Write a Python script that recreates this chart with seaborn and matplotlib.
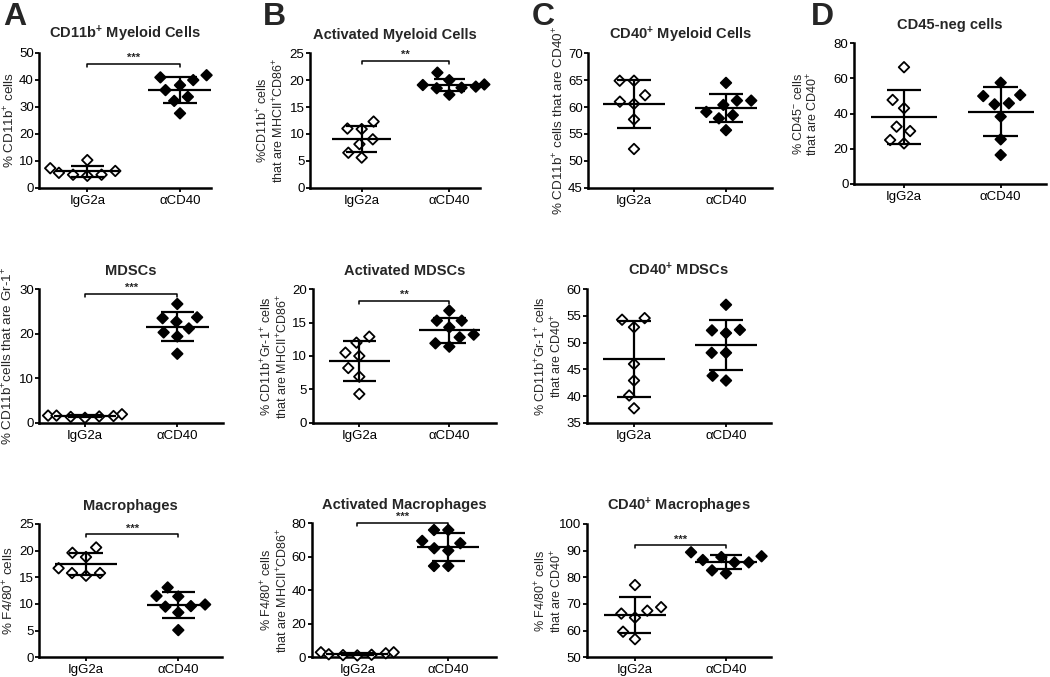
import numpy as np
import pandas as pd
import matplotlib
matplotlib.use("Agg")
import matplotlib.pyplot as plt
from matplotlib.markers import MarkerStyle
from matplotlib.transforms import Affine2D
import seaborn as sns

# ---------------- data ----------------
groups = ["IgG2a", "αCD40"]

# Row 1
myeloid_igg = [6.2, 4.8, 4.4, 4.8, 10.2, 5.5, 7.2]
myeloid_cd40 = [41.6, 40.8, 39.8, 37.9, 36.1, 33.6, 32.1, 27.5]
act_myeloid_igg = [12.3, 10.9, 11.0, 9.0, 8.1, 6.5, 5.6]
act_myeloid_cd40 = [20.0, 19.1, 21.4, 18.5, 17.3, 18.6, 18.8, 19.2]
cd40_myeloid_igg = [64.9, 64.9, 62.2, 60.6, 61.0, 57.7, 52.2]
cd40_myeloid_cd40 = [61.2, 64.5, 59.1, 58.5, 57.9, 60.4, 61.2, 55.7]
cd45neg_igg = [66.4, 47.8, 43.1, 32.6, 30.1, 25.0, 23.1]
cd45neg_cd40 = [50.6, 45.9, 50.0, 57.6, 45.3, 38.3, 25.4, 16.5]
# Row 2
mdsc_igg = [1.9, 1.6, 1.4, 1.1, 1.3, 1.6, 1.5]
mdsc_cd40 = [26.7, 22.7, 23.5, 23.7, 20.3, 19.4, 21.2, 15.5]
act_mdsc_igg = [12.9, 12.0, 10.0, 10.5, 8.2, 6.9, 4.3]
act_mdsc_cd40 = [16.8, 15.3, 15.3, 14.3, 12.8, 13.2, 11.4, 11.9]
cd40_mdsc_igg = [54.3, 54.6, 52.9, 46.0, 42.9, 40.1, 37.7]
cd40_mdsc_cd40 = [57.1, 52.4, 51.8, 52.3, 48.1, 48.1, 43.8, 42.9]
# Row 3
mac_igg = [20.6, 19.6, 18.8, 16.7, 15.8, 15.3, 15.8]
mac_cd40 = [13.1, 11.4, 11.5, 9.9, 9.5, 9.6, 8.4, 5.1]
act_mac_igg = [3.0, 2.4, 1.5, 1.1, 1.3, 1.8, 3.0]
act_mac_cd40 = [76.0, 76.0, 68.1, 69.5, 63.7, 65.1, 54.5, 54.5]
cd40_mac_igg = [77.1, 68.8, 67.5, 66.4, 64.9, 59.6, 56.8]
cd40_mac_cd40 = [86.5, 87.9, 87.6, 89.4, 85.6, 85.6, 81.5, 82.6]

titles = [
    r"CD11b$^{\mathbf{+}}$ Myeloid Cells", "Activated Myeloid Cells",
    r"CD40$^{\mathbf{+}}$ Myeloid Cells", "CD45-neg cells",
    "MDSCs", "Activated MDSCs", r"CD40$^{\mathbf{+}}$ MDSCs",
    "Macrophages", "Activated Macrophages", r"CD40$^{\mathbf{+}}$ Macrophages",
]
ylabels = [
    r"% CD11b$^{+}$ cells",
    "%CD11b$^{+}$ cells\nthat are MHCII$^{+}$CD86$^{+}$",
    r"% CD11b$^{+}$ cells that are CD40$^{+}$",
    "% CD45$^{-}$ cells\nthat are CD40$^{+}$",
    r"% CD11b$^{+}$cells that are Gr-1$^{+}$",
    "% CD11b$^{+}$Gr-1$^{+}$ cells\nthat are MHCII$^{+}$CD86$^{+}$",
    "% CD11b$^{+}$Gr-1$^{+}$ cells\nthat are CD40$^{+}$",
    r"% F4/80$^{+}$ cells",
    "% F4/80$^{+}$ cells\nthat are MHCII$^{+}$CD86$^{+}$",
    "% F4/80$^{+}$ cells\nthat are CD40$^{+}$",
]
yticks = [
    [0, 10, 20, 30, 40, 50], [0, 5, 10, 15, 20, 25], [45, 50, 55, 60, 65, 70],
    [0, 20, 40, 60, 80], [0, 10, 20, 30], [0, 5, 10, 15, 20],
    [35, 40, 45, 50, 55, 60], [0, 5, 10, 15, 20, 25], [0, 20, 40, 60, 80],
    [50, 60, 70, 80, 90, 100],
]
significance = ["***", "**", None, None, "***", "**", None, "***", "***", "***"]
bracket_y = [45.9, 23.6, None, None, 29.0, 18.3, None, 23.1, 80.3, 92.1]

values = [
    (myeloid_igg, myeloid_cd40), (act_myeloid_igg, act_myeloid_cd40),
    (cd40_myeloid_igg, cd40_myeloid_cd40), (cd45neg_igg, cd45neg_cd40),
    (mdsc_igg, mdsc_cd40), (act_mdsc_igg, act_mdsc_cd40),
    (cd40_mdsc_igg, cd40_mdsc_cd40),
    (mac_igg, mac_cd40), (act_mac_igg, act_mac_cd40), (cd40_mac_igg, cd40_mac_cd40),
]

# ---------------- layout (pixels) ----------------
# x_left, x_right, y_top, y_bottom, tick0_x, tick1_x, ylabel_center_x
layout = [
    (39.3, 211.0, 52.5, 187.7, 87.3, 180.0, 10),
    (310.0, 480.0, 53.3, 187.7, 361.7, 449.3, 271),
    (588.3, 772.0, 53.3, 187.7, 634.0, 726.0, 559),
    (854.0, 1046.0, 43.3, 184.0, 904.0, 1000.7, 806),
    (39.3, 222.7, 289.3, 422.7, 85.0, 177.3, 8),
    (312.7, 496.0, 289.3, 422.7, 359.3, 449.3, 275),
    (586.7, 770.7, 289.3, 422.7, 634.0, 726.0, 549),
    (39.3, 221.7, 524.0, 657.3, 86.0, 178.3, 9),
    (311.7, 496.0, 523.3, 657.3, 357.3, 448.3, 275),
    (586.7, 770.7, 524.0, 657.3, 635.0, 726.0, 549),
]
letters = [("A", 3), ("B", 263), ("C", 532), ("D", 811)]

W, H = 1050, 677
SWARM_SIZE = 8.5          # spacing used by seaborn's swarm layout (pt)
DIAMOND_TIP = 7.6         # visible diamond tip-to-tip size (pt)

sns.set_theme(style="ticks")
plt.rcParams["font.family"] = ["Liberation Sans", "DejaVu Sans"]
plt.rcParams["mathtext.fontset"] = "custom"
plt.rcParams["mathtext.rm"] = "Liberation Sans"
plt.rcParams["mathtext.it"] = "Liberation Sans:italic"
plt.rcParams["mathtext.bf"] = "Liberation Sans:bold"

fig = plt.figure(figsize=(W / 100, H / 100), dpi=100)
fig.patch.set_facecolor("white")

palette = {"IgG2a": "white", "αCD40": "black"}
ms = MarkerStyle("D")
diamond = ms.get_path().transformed(ms.get_transform())
shrink = DIAMOND_TIP / (SWARM_SIZE * np.sqrt(2))
small_diamond = diamond.transformed(Affine2D().scale(shrink))

for i in range(10):
    xl, xr, yt, yb, t0, t1, lx = layout[i]
    ax = fig.add_axes([xl / W, 1 - yb / H, (xr - xl) / W, (yb - yt) / H])
    ig, cd = values[i]
    df = pd.DataFrame({
        "group": [groups[0]] * len(ig) + [groups[1]] * len(cd),
        "value": list(ig) + list(cd),
    })
    sns.swarmplot(data=df, x="group", y="value", hue="group", order=groups,
                  hue_order=groups, palette=palette, marker="D", size=SWARM_SIZE,
                  edgecolor="black", linewidth=1.3, legend=False, ax=ax)
    for coll in ax.collections:
        coll.set_paths([small_diamond])
        coll.set_clip_on(False)
        coll.set_zorder(3)

    # mean +/- SD
    for k, vals in enumerate((ig, cd)):
        arr = np.asarray(vals, dtype=float)
        m = arr.mean()
        sd = arr.std(ddof=1)
        ax.hlines(m, k - 0.34, k + 0.34, color="black", lw=1.6, zorder=4)
        ax.hlines([m - sd, m + sd], k - 0.18, k + 0.18, color="black", lw=1.6, zorder=4)
        ax.vlines(k, m - sd, m + sd, color="black", lw=1.6, zorder=4)

    ymin, ymax = yticks[i][0], yticks[i][-1]
    ax.set_ylim(ymin, ymax)
    ax.set_yticks(yticks[i])
    ax.set_xlim((xl - t0) / (t1 - t0), (xr - t0) / (t1 - t0))
    ax.set_xticks([0, 1])
    ax.set_xticklabels(groups)
    ax.set_xlabel("")
    two_line = "\n" in ylabels[i]
    ax.set_ylabel(ylabels[i], fontsize=9 if two_line else 9.7, linespacing=1.05)
    ax.yaxis.set_label_coords((lx - xl) / (xr - xl), 0.5)
    ax.yaxis.label.set_verticalalignment("center")
    ax.set_title(titles[i], fontsize=10.5, fontweight="bold", pad=10)

    for side in ("top", "right"):
        ax.spines[side].set_visible(False)
    for side in ("left", "bottom"):
        ax.spines[side].set_linewidth(1.8)
        ax.spines[side].set_color("black")
    ax.tick_params(axis="both", direction="out", length=3, width=1.3,
                   labelsize=9.5, colors="black", pad=1)
    ax.tick_params(axis="x", pad=2)
    ax.set_facecolor("white")

    if significance[i]:
        h = bracket_y[i]
        d = 0.025 * (ymax - ymin)
        ax.plot([0, 0, 1, 1], [h - d, h, h, h - d], color="black", lw=1.1,
                clip_on=False, zorder=5)
        ax.text(0.5, h + 0.004 * (ymax - ymin), significance[i], ha="center",
                va="bottom", fontsize=8, fontweight="bold", clip_on=False)

for letter, x in letters:
    fig.text(x / W, 1 - 2 / H, letter, fontsize=23, fontweight="bold",
             ha="left", va="top")

fig.savefig("out.png", dpi=100, facecolor="white")
